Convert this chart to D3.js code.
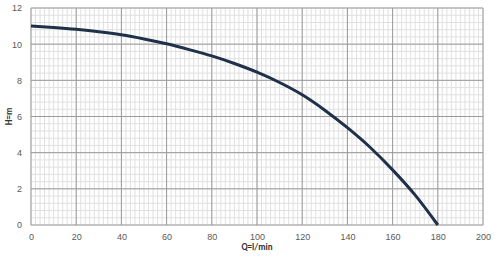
<!DOCTYPE html>
<html lang="en">
<head>
  <meta charset="UTF-8">
  <title>Pump curve</title>
  <script src="https://d3js.org/d3.v7.min.js"></script>
</head>
<style>
  body {
    margin: 0;
    background: #fff;
  }
  svg {
    display: block;
    font-family: Calibri, Carlito, "Liberation Sans", "Open Sans", sans-serif;
  }
  .tick text {
    fill: #595959;
    font-size: 9px;
  }
</style>
<body>
<div class="chart"></div>
<script>
  // flow Q (l/min) and head H (m)
  var flow = [0, 10, 20, 30, 40, 50, 60, 70, 80, 90, 100, 110, 120, 130, 140, 150, 160, 170, 180];
  var head = [11.0, 10.92, 10.82, 10.69, 10.52, 10.29, 10.02, 9.7, 9.35, 8.93, 8.45, 7.88, 7.2, 6.35, 5.38, 4.3, 3.05, 1.65, 0.0];

  var xTicks = [0, 20, 40, 60, 80, 100, 120, 140, 160, 180, 200];
  var yTicks = [0, 2, 4, 6, 8, 10, 12];

  var width = 500, height = 258;
  var margin = {top: 8, right: 17, bottom: 33, left: 31};

  var svg = d3.select('.chart').append('svg')
    .attr('width', width)
    .attr('height', height);

  var x = d3.scaleLinear().domain([0, 200]).range([margin.left, width - margin.right]);
  var y = d3.scaleLinear().domain([0, 12]).range([height - margin.bottom, margin.top]);

  var grid = svg.append('g');

  // minor grid
  grid.selectAll('.vminor')
    .data(d3.range(0, 201, 2))
    .enter().append('line')
    .attr('x1', function (d) { return x(d); })
    .attr('x2', function (d) { return x(d); })
    .attr('y1', y(0)).attr('y2', y(12))
    .attr('stroke', '#e0e0e0').attr('stroke-width', 1);

  grid.selectAll('.hminor')
    .data(d3.range(0, 12.01, 0.4))
    .enter().append('line')
    .attr('y1', function (d) { return y(d); })
    .attr('y2', function (d) { return y(d); })
    .attr('x1', x(0)).attr('x2', x(200))
    .attr('stroke', '#e0e0e0').attr('stroke-width', 1);

  // major grid
  grid.selectAll('.vmajor')
    .data(xTicks)
    .enter().append('line')
    .attr('x1', function (d) { return x(d); })
    .attr('x2', function (d) { return x(d); })
    .attr('y1', y(0)).attr('y2', y(12))
    .attr('stroke', '#9a9a9a').attr('stroke-width', 1);

  grid.selectAll('.hmajor')
    .data(yTicks)
    .enter().append('line')
    .attr('y1', function (d) { return y(d); })
    .attr('y2', function (d) { return y(d); })
    .attr('x1', x(0)).attr('x2', x(200))
    .attr('stroke', '#9a9a9a').attr('stroke-width', 1);

  // axes (labels only)
  var xAxis = svg.append('g')
    .attr('transform', 'translate(0,' + y(0) + ')')
    .call(d3.axisBottom(x).tickValues(xTicks).tickSize(0).tickPadding(9));
  xAxis.select('.domain').remove();

  var yAxis = svg.append('g')
    .attr('transform', 'translate(' + x(0) + ',0)')
    .call(d3.axisLeft(y).tickValues(yTicks).tickSize(0).tickPadding(9));
  yAxis.select('.domain').remove();

  // curve
  var line = d3.line()
    .x(function (d, i) { return x(flow[i]); })
    .y(function (d) { return y(d); })
    .curve(d3.curveMonotoneX);

  svg.append('path')
    .datum(head)
    .attr('d', line)
    .attr('fill', 'none')
    .attr('stroke', '#1f3148')
    .attr('stroke-width', 3);

  // axis titles
  svg.append('text')
    .attr('x', 257).attr('y', 250)
    .attr('text-anchor', 'middle')
    .attr('font-size', 9).attr('font-weight', 'bold')
    .attr('fill', '#333')
    .text('Q=l/min');

  svg.append('text')
    .attr('transform', 'translate(12,' + ((y(0) + y(12)) / 2) + ') rotate(-90)')
    .attr('text-anchor', 'middle')
    .attr('font-size', 9).attr('font-weight', 'bold')
    .attr('fill', '#333')
    .text('H=m');
</script>
</body>
</html>
